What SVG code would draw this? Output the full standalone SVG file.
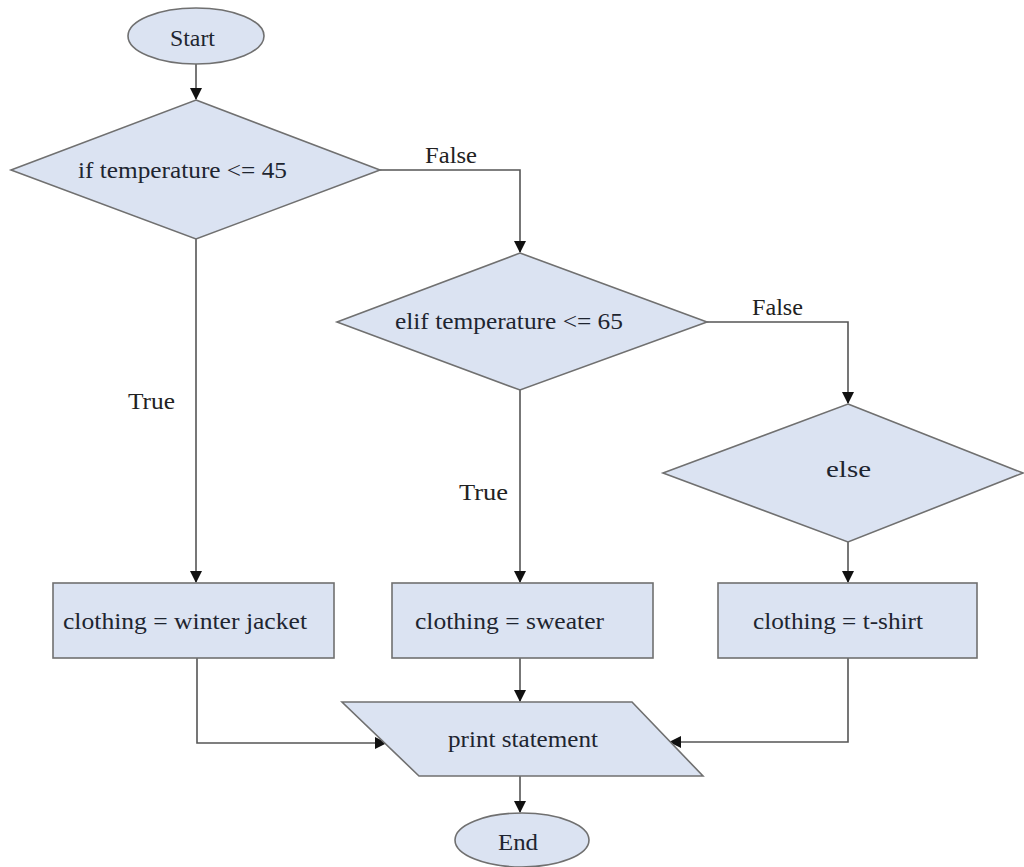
<svg xmlns="http://www.w3.org/2000/svg" width="1024" height="867" viewBox="0 0 1024 867">
  <style>
    .shape { fill: #dbe3f2; stroke: #707070; stroke-width: 1.6; }
    text { font-family: 'Liberation Serif', 'Times New Roman', serif; font-size: 23px; }
    .txt { fill: #1e2530; }
    .lbl { fill: #222222; }
    .edge { fill: none; stroke: #555555; stroke-width: 1.6; }
  </style>
  <defs>
    <marker id="arrow" markerWidth="12" markerHeight="12" refX="11" refY="6" orient="auto" markerUnits="userSpaceOnUse">
      <path d="M0,0 L12,6 L0,12 Z" fill="#111"/>
    </marker>
  </defs>
  <rect width="1024" height="867" fill="#ffffff"/>

  <g id="connectors">
    <path class="edge" d="M196,64 L196,99" marker-end="url(#arrow)"/>
    <path class="edge" d="M380,170 L520,170 L520,252" marker-end="url(#arrow)"/>
    <path class="edge" d="M196,239 L196,582" marker-end="url(#arrow)"/>
    <path class="edge" d="M707,322 L848,322 L848,403" marker-end="url(#arrow)"/>
    <path class="edge" d="M520,390 L520,582" marker-end="url(#arrow)"/>
    <path class="edge" d="M848,542 L848,582" marker-end="url(#arrow)"/>
    <path class="edge" d="M197,658 L197,743 L386,743" marker-end="url(#arrow)"/>
    <path class="edge" d="M520,658 L520,701" marker-end="url(#arrow)"/>
    <path class="edge" d="M848,658 L848,742 L670,742" marker-end="url(#arrow)"/>
    <path class="edge" d="M520,776 L520,812" marker-end="url(#arrow)"/>
    <text class="lbl" x="425" y="163" textLength="52" lengthAdjust="spacingAndGlyphs">False</text>
    <text class="lbl" x="752" y="315" textLength="51" lengthAdjust="spacingAndGlyphs">False</text>
    <text class="lbl" x="128" y="409" textLength="47" lengthAdjust="spacingAndGlyphs">True</text>
    <text class="lbl" x="459" y="500" textLength="49" lengthAdjust="spacingAndGlyphs">True</text>
  </g>

  <g id="start">
    <ellipse class="shape" cx="196" cy="36" rx="68" ry="28"/>
    <text class="txt" x="170" y="46" textLength="45" lengthAdjust="spacingAndGlyphs">Start</text>
  </g>

  <g id="if-temp-45">
    <polygon class="shape" points="196,100 380,170 196,239 11,170"/>
    <text class="txt" x="78" y="178" textLength="209" lengthAdjust="spacingAndGlyphs">if temperature &lt;= 45</text>
  </g>

  <g id="elif-temp-65">
    <polygon class="shape" points="520,253 707,322 520,390 337,322"/>
    <text class="txt" x="395" y="329" textLength="228" lengthAdjust="spacingAndGlyphs">elif temperature &lt;= 65</text>
  </g>

  <g id="else">
    <polygon class="shape" points="848,404 1023,473 848,542 663,473"/>
    <text class="txt" x="826" y="477" textLength="45" lengthAdjust="spacingAndGlyphs">else</text>
  </g>

  <g id="winter-jacket">
    <rect class="shape" x="53" y="583" width="281" height="75"/>
    <text class="txt" x="63" y="629" textLength="244" lengthAdjust="spacingAndGlyphs">clothing = winter jacket</text>
  </g>

  <g id="sweater">
    <rect class="shape" x="392" y="583" width="261" height="75"/>
    <text class="txt" x="415" y="629" textLength="189" lengthAdjust="spacingAndGlyphs">clothing = sweater</text>
  </g>

  <g id="t-shirt">
    <rect class="shape" x="718" y="583" width="259" height="75"/>
    <text class="txt" x="753" y="629" textLength="170" lengthAdjust="spacingAndGlyphs">clothing = t-shirt</text>
  </g>

  <g id="print-statement">
    <polygon class="shape" points="342,702 632,702 703,776 419,776"/>
    <text class="txt" x="448" y="747" textLength="150" lengthAdjust="spacingAndGlyphs">print statement</text>
  </g>

  <g id="end">
    <ellipse class="shape" cx="522" cy="840" rx="67" ry="27"/>
    <text class="txt" x="498" y="850" textLength="40" lengthAdjust="spacingAndGlyphs">End</text>
  </g>
</svg>
